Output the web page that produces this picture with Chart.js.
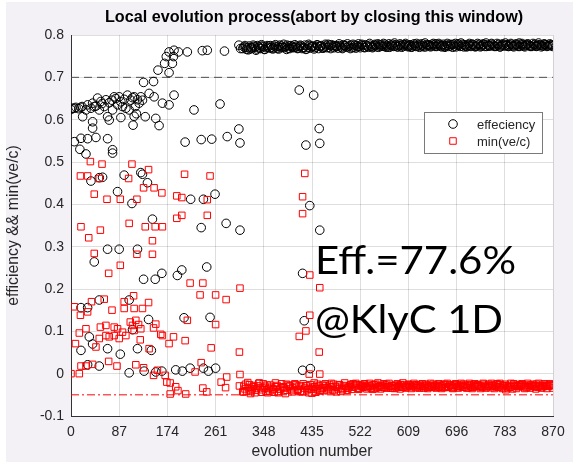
<!DOCTYPE html>
<html>
<head>
<meta charset="utf-8">
<script src="https://cdn.jsdelivr.net/npm/chart.js@4/dist/chart.umd.min.js"></script>
<style>
  html, body { margin: 0; padding: 0; background: #ffffff; }
  canvas { display: block; }
</style>
</head>
<body>
<canvas id="chart" width="573" height="462"></canvas>
<script>
// x-axis tick positions (evolution number)
const genTicks = [0, 87, 174, 261, 348, 435, 522, 609, 696, 783, 870];

// reference levels
const effTarget = 0.7;
const minVeFloor = -0.05;

// scattered evaluations during the search phase: [evolution number, efficiency]
const earlyEff = [
  [0,0.624],[2,0.627],[6,0.627],[9,0.629],[14,0.626],[18,0.629],[20,0.631],[27,0.623],[30,0.635],[36,0.627],
  [39,0.639],[42,0.631],[45,0.632],[48,0.651],[51,0.623],[54,0.643],[56,0.638],[60,0.631],[63,0.647],[69,0.640],
  [74,0.646],[75,0.623],[78,0.654],[81,0.650],[84,0.635],[87,0.654],[90,0.642],[93,0.631],[96,0.648],[99,0.627],
  [102,0.658],[105,0.623],[108,0.646],[111,0.652],[114,0.654],[116,0.631],[120,0.647],[123,0.639],[126,0.654],[129,0.646],
  [141,0.662],[150,0.654],[165,0.639],[177,0.635],[186,0.658],[222,0.623],[269,0.637],
  [21,0.607],[39,0.595],[39,0.580],[66,0.607],[69,0.599],[90,0.605],[112,0.587],[114,0.608],[118,0.614],[134,0.607],[153,0.603],[159,0.586],
  [6,0.548],[16,0.530],[18,0.556],[27,0.519],[30,0.555],[45,0.558],[66,0.555],[75,0.529],[75,0.521],[206,0.547],[235,0.553],[254,0.554],[282,0.560],[303,0.578],[305,0.545],
  [36,0.455],[51,0.463],[57,0.464],[84,0.430],[96,0.469],[110,0.402],[126,0.475],[129,0.471],[138,0.451],[216,0.412],[239,0.412],[260,0.424],
  [42,0.264],[66,0.294],[87,0.294],[120,0.294],[131,0.223],[147,0.365],[152,0.223],[164,0.237],[192,0.232],[200,0.245],[235,0.345],[245,0.252],[280,0.355],[305,0.339],
  [18,0.156],[30,0.156],[51,0.174],[105,0.174],[140,0.128],[204,0.132],[251,0.133],
  [18,0.055],[33,0.087],[39,0.070],[66,0.059],[89,0.046],[111,0.104],[120,0.059],[145,0.055],
  [30,0.021],[51,0.018],[105,0.002],[132,0.006],[153,0.004],[164,0.006],[189,0.009],[201,0.006],[215,0.013],[239,0.013],[248,0.006],[261,0.013],
  [131,0.688],[149,0.690],[157,0.717],[169,0.733],[172,0.749],[177,0.711],[183,0.733],[185,0.749],[177,0.760],[186,0.764],
  [194,0.760],[210,0.760],[237,0.763],[246,0.764],[277,0.762],[303,0.776],[306,0.768],
  [412,0.670],[418,0.237],[418,0.008],[421,0.125],[424,0.540],[431,0.397],[432,0.012],[438,0.658],[448,0.579],[449,0.544],[449,0.339]
];

// scattered evaluations during the search phase: [evolution number, min(ve/c)]
const earlyMinVe = [
  [0,0.000],[6,0.158],[8,0.071],[15,0.096],[15,0.000],[17,0.467],[18,0.347],[17,0.138],[18,0.018],[27,0.106],
  [27,0.018],[30,0.467],[30,0.146],[32,0.321],[35,0.501],[37,0.170],[39,0.022],[42,0.424],[42,0.284],[45,0.063],
  [51,0.461],[51,0.083],[53,0.339],[53,0.110],[56,0.495],[60,0.176],[63,0.114],[63,0.090],[65,0.412],[68,0.237],
  [68,0.029],[69,0.087],[74,0.150],[78,0.110],[78,0.090],[83,0.018],[84,0.106],[87,0.083],[89,0.412],[89,0.256],
  [93,0.098],[96,0.170],[96,0.154],[99,0.090],[104,0.461],[105,0.355],[107,0.122],[110,0.495],[111,0.114],[113,0.184],
  [114,0.154],[114,0.102],[117,0.126],[117,0.021],[119,0.412],[119,0.282],[122,0.116],[125,0.080],[126,0.106],[129,0.154],
  [131,0.439],[131,0.014],[134,0.347],[140,0.482],[140,0.168],[141,0.059],[147,0.314],[147,0.282],[149,0.108],[149,-0.004],
  [150,0.439],[152,0.347],[153,0.117],[156,0.008],[162,0.093],[164,0.427],[165,0.347],[165,0.090],[170,-0.004],[173,-0.020],
  [177,0.071],[179,-0.022],[179,-0.048],[185,0.087],[189,-0.031],[191,0.420],[191,0.367],[193,-0.040],[200,0.416],[200,0.374],
  [205,0.471],[206,0.078],[207,-0.048],[210,0.126],[215,0.214],[224,0.004],[233,0.186],[235,0.026],[238,0.214],[238,-0.034],
  [245,-0.043],[246,0.411],[246,0.374],[251,0.467],[253,0.061],[261,0.186],[261,0.116],[271,-0.020],[279,-0.033],[280,0.175],
  [281,-0.008],[304,0.051],[304,-0.029],[305,0.202],[305,-0.002],[312,-0.043],
  [412,0.088],[418,0.418],[418,0.378],[422,0.473],[424,0.101],[430,-0.001],[431,0.233],[431,0.138],[448,0.051],[449,0.203],[449,-0.001]
];

// converged stage, first evaluation of each batch
const bandGen = [
  310,315,320,325,330,335,340,345,350,355,
  360,365,370,375,380,385,390,395,400,405,
  410,415,420,425,430,435,440,445,450,455,
  460,465,470,475,480,485,490,495,500,505,
  510,515,520,525,530,535,540,545,550,555,
  560,565,570,575,580,585,590,595,600,605,
  610,615,620,625,630,635,640,645,650,655,
  660,665,670,675,680,685,690,695,700,705,
  710,715,720,725,730,735,740,745,750,755,
  760,765,770,775,780,785,790,795,800,805,
  810,815,820,825,830,835,840,845,850,855,
  860,865,870
];
const bandEff = [
  0.768,0.771,0.765,0.770,0.773,0.767,0.769,0.774,0.766,0.771,
  0.775,0.769,0.772,0.767,0.774,0.770,0.776,0.768,0.773,0.771,
  0.769,0.774,0.771,0.767,0.775,0.772,0.770,0.776,0.773,0.769,
  0.774,0.771,0.777,0.770,0.773,0.775,0.768,0.774,0.772,0.776,
  0.771,0.775,0.773,0.778,0.770,0.774,0.776,0.772,0.775,0.771,
  0.777,0.773,0.775,0.771,0.778,0.774,0.772,0.776,0.773,0.777,
  0.774,0.771,0.776,0.773,0.778,0.775,0.772,0.777,0.774,0.776,
  0.773,0.777,0.775,0.771,0.776,0.774,0.778,0.772,0.776,0.774,
  0.777,0.773,0.775,0.778,0.772,0.776,0.774,0.777,0.773,0.775,
  0.778,0.774,0.776,0.772,0.777,0.775,0.773,0.778,0.775,0.776,
  0.773,0.777,0.775,0.778,0.774,0.776,0.773,0.777,0.775,0.778,
  0.774,0.776,0.775
];
const bandMin = [
  -0.043,-0.025,-0.033,-0.040,-0.028,-0.035,-0.022,-0.038,-0.030,-0.045,
  -0.027,-0.036,-0.031,-0.042,-0.024,-0.034,-0.039,-0.029,-0.033,-0.026,
  -0.037,-0.030,-0.041,-0.028,-0.035,-0.046,-0.031,-0.025,-0.039,-0.033,
  -0.029,-0.036,-0.023,-0.040,-0.032,-0.027,-0.038,-0.030,-0.034,-0.026,
  -0.032,-0.026,-0.035,-0.028,-0.024,-0.033,-0.030,-0.037,-0.025,-0.031,
  -0.028,-0.033,-0.025,-0.030,-0.034,-0.027,-0.031,-0.026,-0.032,-0.029,
  -0.026,-0.031,-0.028,-0.033,-0.027,-0.030,-0.025,-0.032,-0.028,-0.030,
  -0.027,-0.032,-0.029,-0.025,-0.031,-0.028,-0.033,-0.026,-0.030,-0.027,
  -0.031,-0.028,-0.026,-0.032,-0.029,-0.027,-0.030,-0.025,-0.031,-0.028,
  -0.027,-0.030,-0.032,-0.026,-0.029,-0.038,-0.028,-0.031,-0.027,-0.029,
  -0.030,-0.026,-0.028,-0.031,-0.027,-0.029,-0.025,-0.030,-0.028,-0.027,
  -0.029,-0.026,-0.028
];

// converged stage, second evaluation of each batch
const bandGen2 = [
  312,317,322,327,332,337,342,347,352,357,
  362,367,372,377,382,387,392,397,402,407,
  412,417,422,427,432,437,442,447,452,457,
  462,467,472,477,482,487,492,497,502,507,
  512,517,522,527,532,537,542,547,552,557,
  562,567,572,577,582,587,592,597,602,607,
  612,617,622,627,632,637,642,647,652,657,
  662,667,672,677,682,687,692,697,702,707,
  712,717,722,727,732,737,742,747,752,757,
  762,767,772,777,782,787,792,797,802,807,
  812,817,822,827,832,837,842,847,852,857,
  862,867
];
const bandEff2 = [
  0.772,0.766,0.774,0.769,0.771,0.775,0.768,0.772,0.770,0.774,
  0.771,0.774,0.768,0.776,0.771,0.773,0.769,0.775,0.770,0.774,
  0.773,0.768,0.776,0.771,0.769,0.774,0.772,0.768,0.775,0.771,
  0.770,0.776,0.772,0.775,0.769,0.772,0.777,0.771,0.774,0.770,
  0.776,0.772,0.770,0.775,0.777,0.771,0.773,0.776,0.772,0.777,
  0.774,0.778,0.772,0.776,0.773,0.777,0.775,0.771,0.776,0.774,
  0.777,0.775,0.773,0.776,0.774,0.772,0.777,0.775,0.778,0.773,
  0.776,0.774,0.778,0.775,0.773,0.777,0.774,0.776,0.773,0.778,
  0.775,0.777,0.773,0.776,0.774,0.778,0.775,0.773,0.777,0.774,
  0.776,0.773,0.778,0.775,0.774,0.777,0.776,0.774,0.778,0.773,
  0.776,0.774,0.777,0.775,0.773,0.778,0.775,0.776,0.774,0.777,
  0.775,0.777
];
const bandMin2 = [
  -0.030,-0.041,-0.026,-0.036,-0.045,-0.029,-0.033,-0.024,-0.042,-0.035,
  -0.032,-0.044,-0.028,-0.037,-0.031,-0.047,-0.027,-0.036,-0.040,-0.030,
  -0.028,-0.043,-0.034,-0.038,-0.026,-0.032,-0.044,-0.029,-0.035,-0.040,
  -0.033,-0.027,-0.038,-0.030,-0.036,-0.042,-0.028,-0.034,-0.031,-0.037,
  -0.029,-0.034,-0.027,-0.032,-0.030,-0.028,-0.034,-0.026,-0.033,-0.029,
  -0.032,-0.027,-0.031,-0.034,-0.028,-0.033,-0.029,-0.032,-0.027,-0.031,
  -0.030,-0.027,-0.033,-0.029,-0.031,-0.034,-0.027,-0.030,-0.032,-0.028,
  -0.031,-0.029,-0.026,-0.032,-0.030,-0.033,-0.028,-0.031,-0.029,-0.032,
  -0.028,-0.033,-0.030,-0.027,-0.031,-0.029,-0.032,-0.028,-0.030,-0.033,
  -0.029,-0.027,-0.031,-0.033,-0.028,-0.030,-0.032,-0.036,-0.029,-0.031,
  -0.028,-0.031,-0.033,-0.027,-0.030,-0.029,-0.032,-0.028,-0.031,-0.029,
  -0.030,-0.028
];

// converged stage, third evaluation of each batch
const bandGen3 = [
  314,319,324,329,334,339,344,349,354,359,
  364,369,374,379,384,389,394,399,404,409,
  414,419,424,429,434,439,444,449,454,459,
  464,469,474,479,484,489,494,499,504,509,
  514,519,524,529,534,539,544,549,554,559,
  564,569,574,579,584,589,594,599,604,609,
  614,619,624,629,634,639,644,649,654,659,
  664,669,674,679,684,689,694,699,704,709,
  714,719,724,729,734,739,744,749,754,759,
  764,769,774,779,784,789,794,799,804,809,
  814,819,824,829,834,839,844,849,854,859,
  864,869
];
const bandEff3 = [
  0.775,0.770,0.767,0.776,0.764,0.772,0.777,0.766,0.775,0.769,
  0.767,0.777,0.773,0.770,0.778,0.766,0.774,0.771,0.777,0.768,
  0.776,0.770,0.766,0.778,0.773,0.767,0.777,0.774,0.769,0.778,
  0.778,0.768,0.775,0.773,0.779,0.770,0.775,0.779,0.768,0.778,
  0.769,0.779,0.776,0.771,0.774,0.780,0.770,0.778,0.779,0.773,
  0.780,0.771,0.779,0.774,0.781,0.772,0.779,0.777,0.780,0.772,
  0.772,0.779,0.780,0.771,0.779,0.781,0.775,0.772,0.780,0.779,
  0.780,0.772,0.773,0.780,0.778,0.771,0.780,0.779,0.781,0.772,
  0.772,0.780,0.778,0.773,0.780,0.772,0.779,0.781,0.774,0.780,
  0.773,0.780,0.772,0.779,0.781,0.773,0.780,0.772,0.779,0.781,
  0.780,0.772,0.779,0.773,0.780,0.774,0.781,0.772,0.779,0.773,
  0.779,0.773
];
const bandMin3 = [
  -0.036,-0.021,-0.047,-0.031,-0.039,-0.023,-0.044,-0.034,-0.027,-0.041,
  -0.038,-0.022,-0.045,-0.033,-0.040,-0.025,-0.030,-0.043,-0.024,-0.039,
  -0.042,-0.024,-0.029,-0.045,-0.037,-0.022,-0.036,-0.041,-0.027,-0.024,
  -0.040,-0.031,-0.025,-0.043,-0.026,-0.035,-0.022,-0.039,-0.028,-0.024,
  -0.023,-0.037,-0.030,-0.025,-0.036,-0.023,-0.027,-0.035,-0.022,-0.036,
  -0.024,-0.034,-0.023,-0.029,-0.035,-0.024,-0.036,-0.022,-0.034,-0.025,
  -0.035,-0.023,-0.026,-0.034,-0.024,-0.029,-0.035,-0.023,-0.025,-0.034,
  -0.024,-0.035,-0.033,-0.023,-0.026,-0.035,-0.024,-0.034,-0.023,-0.025,
  -0.034,-0.023,-0.035,-0.024,-0.026,-0.035,-0.023,-0.034,-0.025,-0.023,
  -0.035,-0.024,-0.023,-0.035,-0.025,-0.034,-0.023,-0.024,-0.035,-0.026,
  -0.024,-0.035,-0.023,-0.034,-0.025,-0.036,-0.023,-0.034,-0.024,-0.035,
  -0.024,-0.034
];

const toPoints = (gens, vals) => gens.map((x, i) => ({x, y: vals[i]}));
const effPoints = earlyEff.map(([x, y]) => ({x, y}))
  .concat(toPoints(bandGen, bandEff), toPoints(bandGen2, bandEff2), toPoints(bandGen3, bandEff3));
const minPoints = earlyMinVe.map(([x, y]) => ({x, y}))
  .concat(toPoints(bandGen, bandMin), toPoints(bandGen2, bandMin2), toPoints(bandGen3, bandMin3));

const axisFont = { family: '"Liberation Sans", Arial, Helvetica, sans-serif', size: 14 };
const labelFont = { family: '"Liberation Sans", Arial, Helvetica, sans-serif', size: 15.8 };
const textColor = '#262626';

// figure background, title, in-axes legend and the result annotation
const decorations = {
  id: 'decorations',
  beforeDraw(chart) {
    const {ctx, chartArea: a} = chart;
    ctx.save();
    ctx.fillStyle = '#ffffff';
    ctx.fillRect(0, 0, chart.width, chart.height);
    ctx.fillStyle = '#f3f0f6';
    ctx.fillRect(6, 2, chart.width - 6, chart.height - 2);
    ctx.fillStyle = '#ffffff';
    ctx.fillRect(a.left, a.top, a.right - a.left, a.bottom - a.top);
    ctx.restore();
  },
  afterDraw(chart) {
    const {ctx, chartArea: a} = chart;
    ctx.save();
    // title
    ctx.fillStyle = '#000000';
    ctx.font = 'bold 16.2px "Liberation Sans", Arial, sans-serif';
    ctx.textAlign = 'center';
    ctx.textBaseline = 'middle';
    ctx.fillText('Local evolution process(abort by closing this window)', (a.left + a.right) / 2 + 2, 18);

    // legend
    const bx = 424, by = 112, bw = 118, bh = 41;
    ctx.fillStyle = '#ffffff';
    ctx.fillRect(bx, by, bw, bh);
    ctx.strokeStyle = '#7a7a7a';
    ctx.lineWidth = 1;
    ctx.strokeRect(bx + 0.5, by + 0.5, bw, bh);
    ctx.font = '13px "Liberation Sans", Arial, sans-serif';
    ctx.textAlign = 'left';
    ctx.textBaseline = 'middle';
    chart.data.datasets.filter(d => d.inLegend).forEach((d, i) => {
      const cy = by + 12 + i * 17;
      ctx.strokeStyle = d.borderColor;
      ctx.lineWidth = 1;
      ctx.beginPath();
      if (d.pointStyle === 'circle') {
        ctx.arc(bx + 29, cy, d.pointRadius, 0, Math.PI * 2);
      } else {
        const s = d.pointRadius * Math.SQRT1_2;
        ctx.rect(bx + 29 - s, cy - s, 2 * s, 2 * s);
      }
      ctx.stroke();
      ctx.fillStyle = textColor;
      ctx.fillText(d.label, bx + 53, cy + 1);
    });

    // result annotation
    ctx.fillStyle = '#000000';
    ctx.textAlign = 'left';
    ctx.textBaseline = 'alphabetic';
    const fit = (text, x, y, w, size) => {
      ctx.font = size + 'px Lato, "Open Sans", sans-serif';
      const m = ctx.measureText(text).width;
      ctx.save();
      ctx.translate(x, y);
      ctx.scale(w / m, 1);
      ctx.fillText(text, 0, 0);
      ctx.restore();
    };
    fit('Eff.=77.6%', 315, 274, 201, 38);
    fit('@KlyC 1D', 315, 333, 188, 38);
    ctx.restore();
  }
};

new Chart(document.getElementById('chart'), {
  type: 'scatter',
  data: {
    datasets: [
      {
        label: 'effeciency',
        inLegend: true,
        data: effPoints,
        pointStyle: 'circle',
        pointRadius: 4.3,
        pointHoverRadius: 4.3,
        borderWidth: 1,
        borderColor: '#000000',
        backgroundColor: 'rgba(0,0,0,0)',
        order: 1
      },
      {
        label: 'min(ve/c)',
        inLegend: true,
        data: minPoints,
        pointStyle: 'rect',
        pointRadius: 4.6,
        pointHoverRadius: 4.6,
        borderWidth: 1,
        borderColor: '#ff0000',
        backgroundColor: 'rgba(0,0,0,0)',
        order: 0
      },
      {
        type: 'line',
        label: 'target',
        data: [{x: genTicks[0], y: effTarget}, {x: genTicks[genTicks.length - 1], y: effTarget}],
        borderColor: '#4d4d4d',
        borderWidth: 1,
        borderDash: [8, 5],
        pointRadius: 0,
        order: 2
      },
      {
        type: 'line',
        label: 'floor',
        data: [{x: genTicks[0], y: minVeFloor}, {x: genTicks[genTicks.length - 1], y: minVeFloor}],
        borderColor: '#ff0000',
        borderWidth: 1,
        borderDash: [8, 3, 2, 3],
        pointRadius: 0,
        order: 2
      }
    ]
  },
  options: {
    responsive: false,
    animation: false,
    events: [],
    layout: { padding: { left: 0, top: 35, right: 20, bottom: 0 } },
    plugins: { legend: { display: false }, tooltip: { enabled: false }, title: { display: false } },
    scales: {
      x: {
        type: 'linear',
        min: 0,
        max: 870,
        afterBuildTicks: s => { s.ticks = genTicks.map(v => ({ value: v })); },
        afterFit: s => { s.height = 46; },
        ticks: { font: axisFont, color: textColor, padding: 8, maxRotation: 0, autoSkip: false },
        grid: { color: 'rgba(0,0,0,0.13)', lineWidth: 1, drawTicks: false },
        border: { color: '#333333', width: 1 },
        title: { display: true, text: 'evolution number', font: labelFont, color: textColor, padding: { top: 0, bottom: 1 } }
      },
      y: {
        type: 'linear',
        min: -0.1,
        max: 0.8,
        ticks: { stepSize: 0.1, font: axisFont, color: textColor, padding: 7, callback: v => String(+v.toFixed(1)) },
        afterFit: s => { s.width = 71; },
        grid: { color: 'rgba(0,0,0,0.13)', lineWidth: 1, drawTicks: false },
        border: { color: '#333333', width: 1 },
        title: { display: true, text: 'efficiency && min(ve/c)', font: labelFont, color: textColor, padding: { top: 4, bottom: 0 } }
      }
    }
  },
  plugins: [decorations]
});
</script>
</body>
</html>
